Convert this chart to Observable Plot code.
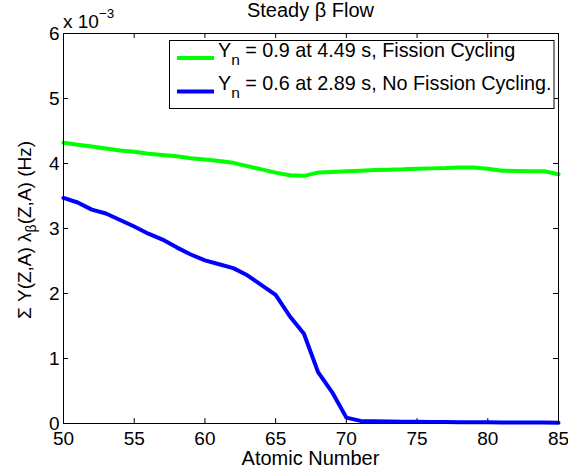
<!DOCTYPE html>
<html><head><meta charset="utf-8">
<script src="https://cdn.jsdelivr.net/npm/d3@7"></script>
<script src="https://cdn.jsdelivr.net/npm/@observablehq/plot@0.6"></script>
<style>
body{margin:0;background:#fff;}
#chart{position:relative;width:568px;height:475px;}
</style></head><body><div id="chart"></div>
<script>
// Atomic number Z (x axis)
const atomicNumber = [50,51,52,53,54,55,56,57,58,59,60,61,62,63,64,65,66,67,68,69,70,71,72,73,74,75,76,77,78,79,80,81,82,83,84,85];
// Sum Y(Z,A) lambda_beta(Z,A), in units of 10^-3 Hz
const fissionCycling = [4.32,4.29,4.26,4.23,4.20,4.18,4.15,4.13,4.11,4.08,4.06,4.04,4.01,3.96,3.91,3.86,3.82,3.81,3.86,3.87,3.88,3.89,3.90,3.905,3.91,3.92,3.925,3.93,3.94,3.94,3.92,3.89,3.885,3.88,3.88,3.835];
const noFissionCycling = [3.47,3.40,3.29,3.23,3.13,3.03,2.92,2.83,2.71,2.60,2.51,2.45,2.39,2.28,2.13,1.98,1.65,1.38,0.79,0.48,0.09,0.04,0.035,0.03,0.028,0.026,0.024,0.022,0.02,0.019,0.018,0.017,0.016,0.015,0.014,0.013];
const xTicks = [50,55,60,65,70,75,80,85];
const yTicks = [0,1,2,3,4,5,6];
const seriesKeys = ["fc","nfc"];
const seriesColors = ["#00ff00","#0000ff"];
const legendMain = ["Y","Y"];
const legendSub = ["n","n"];
const legendRest = [" = 0.9 at 4.49 s, Fission Cycling"," = 0.6 at 2.89 s, No Fission Cycling."];
const titleText = "Steady β Flow";
const xLabel = "Atomic Number";

const rows = atomicNumber.flatMap((z,i)=>[
  {z, v: fissionCycling[i], s: seriesKeys[0]},
  {z, v: noFissionCycling[i], s: seriesKeys[1]}
]);

const FONT = "Liberation Sans, Arial, Helvetica, sans-serif";
const plot = Plot.plot({
  width: 568, height: 475,
  marginLeft: 63, marginRight: 10, marginTop: 33, marginBottom: 52,
  style: {fontFamily: FONT, fontSize: "19px", background: "#fff", color: "#000", overflow: "visible"},
  x: {domain: [50, 85]},
  y: {domain: [0, 6]},
  color: {domain: seriesKeys, range: seriesColors},
  marks: [
    Plot.axisX(xTicks, {anchor: "bottom", tickSize: 0, tickPadding: 8, label: null, fontSize: 19, tickFormat: d3.format("d")}),
    Plot.axisY(yTicks, {anchor: "left", tickSize: 0, tickPadding: 4, label: null, fontSize: 19, tickFormat: d3.format("d")}),
    Plot.ruleX(xTicks, {x: d => d, y1: 0, y2: 0.075, stroke: "black"}),
    Plot.ruleX(xTicks, {x: d => d, y1: 6, y2: 5.925, stroke: "black"}),
    Plot.ruleY(yTicks, {y: d => d, x1: 50, x2: 50.35, stroke: "black"}),
    Plot.ruleY(yTicks, {y: d => d, x1: 85, x2: 84.65, stroke: "black"}),
    Plot.line(rows, {x: "z", y: "v", z: "s", stroke: "s", strokeWidth: 4, strokeLinejoin: "round"}),
    Plot.frame({stroke: "black"})
  ]
});
document.getElementById("chart").appendChild(plot);

const svg = d3.select(plot);
const t = svg.append("g").attr("font-family", FONT).attr("fill", "black");
// title
t.append("text").attr("x", 310.5).attr("y", 16.5).attr("text-anchor", "middle").attr("font-size", 20).text(titleText);
// exponent
const ex = t.append("text").attr("x", 63).attr("y", 28).attr("text-anchor", "start").attr("font-size", 19);
ex.append("tspan").text("x 10");
ex.append("tspan").attr("dy", -10).attr("font-size", 13.5).text("−3");
// x label
t.append("text").attr("x", 310.5).attr("y", 465).attr("text-anchor", "middle").attr("font-size", 20).text(xLabel);
// y label
const yl = t.append("text").attr("transform", "translate(31,230) rotate(-90)").attr("text-anchor", "middle").attr("font-size", 19);
yl.append("tspan").text("Σ Y(Z,A) λ");
yl.append("tspan").attr("dy", 5).attr("font-size", 14).text("β");
yl.append("tspan").attr("dy", -5).text("(Z,A) (Hz)");
// legend
const lg = svg.append("g").attr("font-family", FONT);
lg.append("rect").attr("x", 169.5).attr("y", 40.5).attr("width", 384.5).attr("height", 68).attr("fill", "white").attr("stroke", "black");
seriesKeys.forEach((k, i) => {
  const y = 58 + i * 33.5;
  lg.append("line").attr("x1", 177).attr("x2", 214).attr("y1", y).attr("y2", y).attr("stroke", seriesColors[i]).attr("stroke-width", 4);
  const tx = lg.append("text").attr("x", 218).attr("y", y - 1.5).attr("text-anchor", "start").attr("font-size", 19.8).attr("fill", "black");
  tx.append("tspan").text(legendMain[i]);
  tx.append("tspan").attr("dy", 8).attr("font-size", 15.5).text(legendSub[i]);
  tx.append("tspan").attr("dy", -8).text(legendRest[i]);
});
</script></body></html>
